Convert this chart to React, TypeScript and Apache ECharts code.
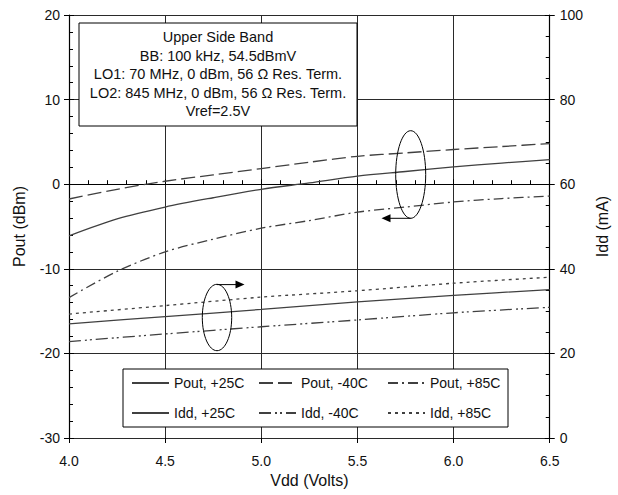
import React, { useEffect, useRef } from "react";
import * as echarts from "echarts";

// Supply voltage (Volts)
const vddFine = [4.0, 4.25, 4.5, 4.75, 5.0, 5.25, 5.5, 5.75, 6.0, 6.25, 6.5];
const vddCoarse = [4.0, 4.5, 5.0, 5.5, 6.0, 6.5];

// Output power (dBm), left axis
const pout25 = [-6.1, -4.1, -2.7, -1.6, -0.6, 0.15, 0.95, 1.5, 2.05, 2.5, 2.9];
const poutM40 = [-1.75, -0.6, 0.35, 1.1, 1.85, 2.6, 3.3, 3.7, 4.1, 4.45, 4.8];
const pout85 = [-13.4, -10.3, -8.0, -6.5, -5.2, -4.3, -3.3, -2.7, -2.1, -1.7, -1.4];

// Supply current (mA), right axis
const idd25 = [27.0, 28.7, 30.4, 32.2, 33.7, 35.1];
const iddM40 = [22.8, 24.6, 26.3, 27.9, 29.6, 30.9];
const idd85 = [29.3, 31.3, 33.3, 34.8, 36.6, 38.0];

const seriesNames = [
  "Pout, +25C",
  "Pout, -40C",
  "Pout, +85C",
  "Idd, +25C",
  "Idd, -40C",
  "Idd, +85C",
];

const noteLines = [
  "Upper Side Band",
  "BB: 100 kHz, 54.5dBmV",
  "LO1: 70 MHz, 0 dBm, 56 Ω Res. Term.",
  "LO2: 845 MHz, 0 dBm, 56 Ω Res. Term.",
  "Vref=2.5V",
];

const FONT = "'Liberation Sans', Arial, Helvetica, sans-serif";
const LINE = "#404040";
const GRID = "#2a2a2a";

const pair = (xs: number[], ys: number[]) => xs.map((x, i) => [x, ys[i]]);

export default function App() {
  const ref = useRef<HTMLDivElement>(null);

  useEffect(() => {
    if (!ref.current) return;
    const chart = echarts.init(ref.current, null, { renderer: "svg" });

    const dashes: any[] = [
      "solid",
      [14, 5],
      [10, 4, 2, 4],
      "solid",
      [12, 4, 2, 3, 2, 4],
      [3, 4],
    ];
    const datas = [
      pair(vddFine, pout25),
      pair(vddFine, poutM40),
      pair(vddFine, pout85),
      pair(vddCoarse, idd25),
      pair(vddCoarse, iddM40),
      pair(vddCoarse, idd85),
    ];

    const series = seriesNames.map((name, i) => ({
      name,
      type: "line",
      xAxisIndex: 0,
      yAxisIndex: i < 3 ? 0 : 1,
      data: datas[i],
      smooth: 0.3,
      symbol: "none",
      showSymbol: false,
      lineStyle: { color: LINE, width: 1.3, type: dashes[i] },
      itemStyle: { color: LINE },
      z: 2,
    }));

    const legendPos = [
      [131, 376],
      [258, 376],
      [387, 376],
      [131, 406],
      [258, 406],
      [387, 406],
    ];
    const legends = seriesNames.map((name, i) => ({
      data: [name],
      left: legendPos[i][0],
      top: legendPos[i][1],
      padding: 0,
      itemWidth: 37,
      itemHeight: 12,
      itemGap: 0,
      z: 10,
      selectedMode: false,
      itemStyle: { opacity: 0 },
      textStyle: { fontSize: 14, color: "#111", fontFamily: FONT, padding: [0, 0, 0, 0] },
    }));

    const axisLabelStyle = { fontSize: 14, color: "#111", fontFamily: FONT };

    const option: any = {
      animation: false,
      backgroundColor: "#fff",
      grid: { left: 69, right: 57, top: 15, bottom: 57, containLabel: false },
      xAxis: [
        {
          type: "value",
          min: 4,
          max: 6.5,
          interval: 0.5,
          position: "bottom",
          name: "Vdd (Volts)",
          nameLocation: "middle",
          nameGap: 34,
          nameTextStyle: { fontSize: 16, color: "#111", fontFamily: FONT },
          axisLine: { show: true, lineStyle: { color: "#000", width: 1.2 } },
          axisTick: { show: true, inside: true, length: 5, lineStyle: { color: "#000" } },
          minorTick: { show: true, splitNumber: 5, length: 4, lineStyle: { color: "#000" } },
          axisLabel: { ...axisLabelStyle, margin: 16, formatter: (v: number) => v.toFixed(1) },
          splitLine: { show: true, lineStyle: { color: GRID, width: 1 } },
        },
        {
          type: "value",
          min: 4,
          max: 6.5,
          interval: 0.5,
          position: "bottom",
          axisLine: { show: false },
          axisTick: { show: true, inside: false, length: 5, lineStyle: { color: "#000" } },
          axisLabel: { show: false },
          splitLine: { show: false },
        },
      ],
      yAxis: [
        {
          type: "value",
          min: -30,
          max: 20,
          interval: 10,
          position: "left",
          name: "Pout (dBm)",
          nameLocation: "middle",
          nameGap: 42,
          nameTextStyle: { fontSize: 16, color: "#111", fontFamily: FONT },
          axisLine: { show: true, lineStyle: { color: "#000", width: 1.2 } },
          axisTick: { show: true, inside: true, length: 5, lineStyle: { color: "#000" } },
          minorTick: { show: true, splitNumber: 5, length: 4, lineStyle: { color: "#000" } },
          axisLabel: { ...axisLabelStyle, margin: 9 },
          splitLine: { show: true, lineStyle: { color: GRID, width: 1 } },
        },
        {
          type: "value",
          min: 0,
          max: 100,
          interval: 20,
          position: "right",
          name: "Idd (mA)",
          nameLocation: "middle",
          nameGap: 28,
          nameRotate: 90,
          nameTextStyle: { fontSize: 16, color: "#111", fontFamily: FONT },
          axisLine: { show: true, lineStyle: { color: "#000", width: 1.2 } },
          axisTick: { show: true, inside: true, length: 5, lineStyle: { color: "#000" } },
          minorTick: { show: true, splitNumber: 4, length: 4, lineStyle: { color: "#000" } },
          axisLabel: { ...axisLabelStyle, margin: 10 },
          splitLine: { show: false },
        },
        {
          type: "value",
          min: -30,
          max: 20,
          interval: 10,
          position: "left",
          axisLine: { show: false },
          axisTick: { show: true, inside: false, length: 5, lineStyle: { color: "#000" } },
          axisLabel: { show: false },
          splitLine: { show: false },
        },
        {
          type: "value",
          min: 0,
          max: 100,
          interval: 20,
          position: "right",
          axisLine: { show: false },
          axisTick: { show: true, inside: false, length: 5, lineStyle: { color: "#000" } },
          axisLabel: { show: false },
          splitLine: { show: false },
        },
      ],
      legend: legends,
      series,
      graphic: [
        {
          type: "rect",
          z: 5,
          shape: { x: 79, y: 23, width: 278, height: 103 },
          style: { fill: "#fff", stroke: "#000", lineWidth: 1 },
        },
        ...noteLines.map((t, i) => ({
          type: "text",
          z: 6,
          x: 218,
          y: 37.3 + i * 18.4,
          style: {
            text: t,
            fill: "#111",
            font: `14.5px ${FONT}`,
            textAlign: "center",
            textVerticalAlign: "middle",
          },
        })),
        {
          type: "rect",
          z: 5,
          shape: { x: 123, y: 369, width: 385, height: 58 },
          style: { fill: "#fff", stroke: "#000", lineWidth: 1 },
        },
        {
          type: "ellipse",
          z: 6,
          shape: { cx: 410.7, cy: 174.5, rx: 15, ry: 43.8 },
          style: { fill: "none", stroke: "#000", lineWidth: 1 },
        },
        {
          type: "line",
          z: 6,
          shape: { x1: 410.7, y1: 218.3, x2: 389, y2: 218.3 },
          style: { stroke: "#000", lineWidth: 1 },
        },
        {
          type: "polygon",
          z: 6,
          shape: { points: [[381.5, 218.3], [390.5, 214.3], [390.5, 222.3]] },
          style: { fill: "#000" },
        },
        {
          type: "ellipse",
          z: 6,
          shape: { cx: 217, cy: 317.5, rx: 14.7, ry: 33.2 },
          style: { fill: "none", stroke: "#000", lineWidth: 1 },
        },
        {
          type: "line",
          z: 6,
          shape: { x1: 217, y1: 284.6, x2: 237, y2: 284.6 },
          style: { stroke: "#000", lineWidth: 1 },
        },
        {
          type: "polygon",
          z: 6,
          shape: { points: [[244.5, 284.6], [235.5, 280.6], [235.5, 288.6]] },
          style: { fill: "#000" },
        },
      ],
    };

    chart.setOption(option);
    return () => chart.dispose();
  }, []);

  return (
    <div
      ref={ref}
      style={{ position: "fixed", left: 0, top: 0, width: 618, height: 495, background: "#fff" }}
    />
  );
}
